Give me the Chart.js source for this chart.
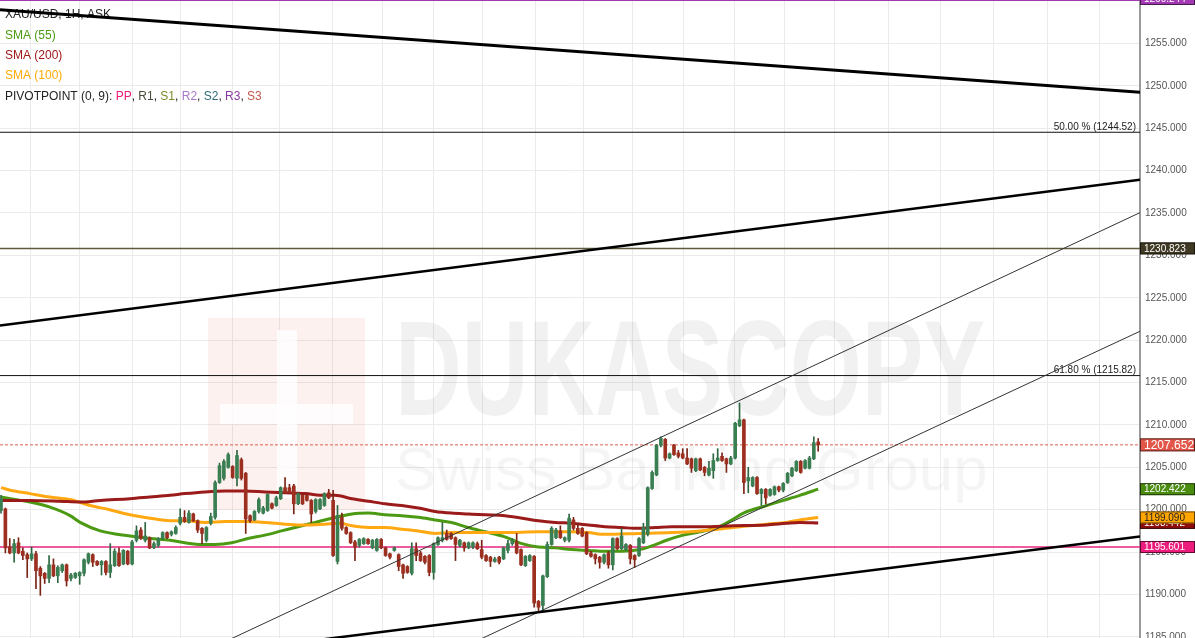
<!DOCTYPE html>
<html>
<head>
<meta charset="utf-8">
<script src="https://cdn.jsdelivr.net/npm/chart.js@4"></script>
<style>
  html, body { margin: 0; padding: 0; background: #fff; }
  #wrap { width: 1195px; height: 638px; }
</style>
</head>
<body>
<div id="wrap"><canvas id="chart"></canvas></div>
<script>
// XAU/USD 1H candles, oldest first
const openP = [1199.9,1200.1,1195.6,1194.9,1196.1,1195.1,1194.7,1194.2,1194.8,1193.1,
  1192.5,1191.9,1193.5,1192.2,1192.8,1193.5,1191.9,1192.0,1192.2,1192.5,
  1193.8,1194.7,1193.9,1193.5,1193.9,1192.6,1193.4,1194.9,1193.6,1195.1,
  1193.6,1196.4,1197.6,1196.4,1196.7,1195.5,1195.8,1196.6,1197.3,1197.1,
  1197.2,1198.4,1199.1,1198.5,1199.5,1198.7,1197.8,1196.4,1198.4,1199.1,
  1203.2,1203.7,1205.0,1205.1,1203.7,1205.9,1204.3,1199.3,1198.8,1199.8,
  1199.6,1199.9,1200.7,1200.5,1201.3,1202.6,1202.6,1202.8,1200.7,1201.7,
  1201.7,1201.1,1199.8,1200.1,1200.5,1202.0,1201.1,1193.9,1199.1,1197.9,
  1197.3,1196.2,1195.8,1196.0,1196.5,1195.5,1195.2,1196.5,1195.5,1194.8,
  1195.2,1194.7,1193.5,1193.3,1192.5,1195.4,1194.9,1194.5,1194.6,1192.6,
  1195.9,1196.4,1197.2,1197.2,1196.7,1195.8,1196.1,1195.5,1195.6,1196.0,
  1195.3,1194.6,1194.4,1193.9,1194.4,1194.2,1195.2,1196.0,1196.2,1195.3,
  1193.4,1194.0,1194.5,1189.2,1188.7,1192.1,1195.9,1196.7,1197.5,1196.4,
  1196.4,1198.8,1197.8,1197.8,1197.3,1194.9,1194.7,1194.4,1193.8,1194.9,
  1193.5,1196.6,1195.4,1195.3,1195.8,1194.6,1194.6,1196.1,1197.1,1202.5,
  1204.1,1207.6,1208.3,1206.1,1207.6,1206.7,1206.6,1206.1,1206.0,1204.6,
  1206.0,1205.0,1204.1,1204.6,1205.8,1206.3,1206.0,1205.4,1206.1,1209.9,
  1210.6,1203.4,1202.8,1203.8,1201.9,1202.4,1201.7,1201.8,1202.7,1202.3,
  1203.2,1204.0,1204.6,1205.7,1204.9,1204.9,1206.0,1208.0];
const highP = [1201.7,1200.2,1196.6,1196.5,1196.7,1195.5,1194.9,1195.6,1195.1,1193.3,
  1192.6,1194.6,1194.2,1193.4,1193.6,1193.6,1192.5,1192.6,1192.7,1194.2,
  1194.9,1194.8,1194.0,1194.0,1194.0,1196.0,1195.4,1195.5,1195.3,1195.2,
  1196.4,1198.1,1197.9,1198.5,1196.8,1196.2,1196.7,1197.4,1197.4,1197.5,
  1198.1,1200.1,1199.9,1199.9,1199.6,1198.8,1197.9,1198.0,1199.6,1203.4,
  1205.5,1205.9,1206.7,1205.2,1207.0,1206.1,1204.4,1199.4,1199.9,1201.4,
  1200.4,1201.9,1200.8,1201.6,1202.7,1203.8,1203.0,1203.0,1202.0,1201.9,
  1201.8,1201.2,1201.3,1201.3,1202.0,1202.4,1202.3,1200.5,1199.6,1198.0,
  1197.4,1196.4,1196.6,1196.7,1196.6,1196.5,1196.6,1196.6,1195.6,1194.9,
  1195.6,1194.8,1193.6,1193.4,1196.1,1196.1,1195.1,1194.6,1194.7,1196.1,
  1196.8,1198.5,1197.6,1197.3,1196.8,1196.5,1196.2,1196.2,1196.2,1196.2,
  1196.4,1194.7,1194.5,1194.4,1194.5,1195.6,1196.4,1196.6,1197.2,1195.4,
  1194.6,1194.7,1194.6,1189.3,1192.3,1196.2,1198.0,1197.8,1198.1,1196.8,
  1199.5,1199.1,1198.4,1197.9,1197.4,1195.1,1194.8,1194.5,1194.8,1195.1,
  1196.7,1196.7,1197.8,1196.0,1195.9,1194.7,1196.7,1198.4,1202.7,1204.6,
  1207.7,1208.6,1208.4,1206.7,1207.7,1207.0,1207.2,1207.2,1206.1,1206.1,
  1206.1,1205.1,1205.7,1206.6,1207.2,1206.7,1206.1,1206.3,1210.3,1212.6,
  1210.7,1205.0,1203.9,1203.9,1202.5,1202.5,1202.5,1202.8,1202.8,1203.2,
  1204.4,1205.0,1205.8,1205.8,1205.9,1206.3,1208.6,1208.4];
const lowP = [1199.6,1194.9,1194.8,1193.8,1194.8,1194.1,1192.0,1194.0,1190.7,1189.9,
  1191.3,1191.4,1192.1,1191.4,1192.6,1191.0,1191.6,1191.9,1191.2,1192.2,
  1193.6,1193.3,1193.4,1192.3,1192.3,1192.0,1193.3,1193.3,1193.5,1193.5,
  1193.5,1196.2,1196.5,1196.2,1195.4,1195.4,1195.6,1196.5,1196.6,1196.9,
  1197.1,1198.2,1198.5,1198.4,1198.6,1197.3,1196.0,1196.2,1198.2,1198.9,
  1203.1,1203.5,1204.9,1203.7,1202.8,1203.5,1197.2,1198.5,1198.7,1199.6,
  1199.5,1199.8,1200.1,1200.4,1201.2,1201.9,1201.9,1199.5,1200.6,1200.6,
  1201.0,1198.5,1199.6,1200.0,1200.4,1201.3,1194.5,1193.6,1197.6,1197.1,
  1196.0,1194.0,1195.6,1195.9,1195.9,1195.4,1195.1,1195.4,1194.5,1194.2,
  1195.1,1192.8,1191.9,1192.5,1192.3,1194.0,1193.9,1193.6,1192.2,1191.8,
  1195.8,1196.2,1196.4,1196.5,1194.0,1195.6,1195.1,1195.4,1195.4,1195.3,
  1194.2,1193.9,1193.3,1193.8,1193.6,1194.1,1194.9,1195.8,1194.8,1193.4,
  1193.3,1193.9,1188.5,1188.1,1187.9,1192.0,1195.8,1196.6,1196.6,1196.2,
  1196.2,1197.6,1197.1,1196.8,1194.7,1194.4,1193.6,1193.1,1193.6,1193.1,
  1192.9,1195.3,1195.3,1195.2,1193.6,1193.2,1194.5,1196.0,1196.9,1202.4,
  1204.0,1207.4,1205.8,1206.0,1206.4,1206.1,1206.0,1205.3,1204.4,1204.5,
  1204.6,1204.0,1204.0,1203.7,1205.7,1205.7,1204.4,1205.3,1206.0,1209.8,
  1201.9,1202.0,1202.7,1201.8,1200.5,1200.7,1201.6,1201.7,1202.1,1202.1,
  1203.1,1203.9,1204.5,1204.3,1204.8,1204.8,1205.9,1206.9];
const closeP = [1201.3,1195.5,1194.9,1196.0,1194.9,1194.6,1194.2,1194.8,1192.8,1192.2,
  1191.9,1193.5,1192.2,1193.2,1193.5,1191.6,1192.3,1192.5,1192.6,1194.1,
  1194.8,1193.8,1193.5,1193.9,1192.6,1193.5,1195.1,1193.4,1195.2,1193.6,
  1196.2,1197.5,1196.6,1196.9,1195.5,1196.0,1196.6,1197.3,1196.7,1197.4,
  1197.9,1199.1,1198.6,1199.6,1198.7,1197.6,1197.2,1197.9,1199.2,1203.2,
  1205.2,1205.7,1206.5,1203.8,1206.4,1203.7,1198.9,1198.7,1199.8,1201.2,
  1200.2,1201.8,1200.2,1201.4,1202.6,1202.0,1202.0,1200.7,1201.9,1200.7,
  1201.1,1199.5,1201.2,1201.2,1201.9,1201.4,1194.6,1199.3,1197.8,1197.2,
  1196.1,1195.6,1196.5,1196.6,1196.0,1196.4,1196.5,1195.5,1194.6,1194.4,
  1195.5,1193.3,1192.5,1192.6,1195.4,1194.6,1194.0,1193.8,1192.6,1196.0,
  1196.7,1196.7,1196.5,1196.6,1195.9,1196.4,1195.5,1196.1,1196.1,1195.4,
  1194.4,1194.0,1193.9,1194.2,1193.8,1195.5,1196.0,1196.4,1194.9,1193.5,
  1194.5,1194.6,1189.0,1188.5,1192.2,1195.9,1197.8,1197.6,1196.7,1196.7,
  1199.0,1197.8,1197.2,1196.9,1194.8,1194.5,1194.2,1193.8,1194.7,1193.5,
  1196.6,1195.4,1196.9,1195.9,1194.2,1194.1,1196.6,1197.9,1202.6,1204.4,
  1207.6,1208.4,1206.1,1206.6,1206.5,1206.3,1206.1,1205.4,1204.9,1206.0,
  1204.7,1204.4,1204.9,1205.8,1206.1,1205.8,1205.4,1206.1,1210.2,1210.6,
  1203.2,1203.8,1203.8,1201.9,1202.4,1201.4,1202.4,1202.7,1202.3,1203.1,
  1204.3,1204.9,1205.7,1204.4,1205.8,1206.1,1207.9,1207.65];

// moving averages, read at candle positions
const sma55X = [0,6.6,11.2,15.8,18.1,22.7,29.5,34.1,38.7,42.1,45.9,49.0,52.8,56.5,60.4,64.2,68.0,71.9,75.7,80.3,
  84.1,87.9,91.7,95.5,99.3,103.1,106.9,110.8,115.3,119.2,123.0,126.8,130.6,134.4,138.2,142.0,146.2,149.3,152.3,156.1,
  160.0,163.8,167.6,169.9,175.2,179.0,182.8,187];
const sma55Y = [1201.5,1200.9,1200.3,1199.3,1198.5,1197.5,1196.9,1196.6,1196.4,1196.1,1195.9,1195.9,1196.1,1196.6,1197.0,1197.5,1198.0,1198.5,1199.0,1199.5,
  1199.6,1199.4,1199.3,1199.1,1198.8,1198.5,1197.9,1197.4,1196.8,1196.0,1195.6,1195.5,1195.3,1195.2,1195.1,1195.1,1195.3,1195.8,1196.4,1197.0,
  1197.4,1197.9,1198.9,1199.6,1200.5,1201.1,1201.7,1202.422];
const sma200X = [0,6.6,13.5,18.1,22.7,29.5,34.1,38.7,42.1,46.7,51.3,55.8,60.4,65.0,69.6,74.1,76.4,80.3,84.1,87.9,
  91.7,95.5,99.3,103.1,106.9,110.8,115.3,123.0,126.8,130.6,134.4,138.2,142.0,145.8,149.7,153.5,160.0,167.6,175.2,179.8,
  182.8,187];
const sma200Y = [1201.1,1201.1,1201.0,1200.9,1201.1,1201.3,1201.5,1201.7,1201.9,1202.1,1202.2,1202.2,1202.1,1202.0,1201.9,1201.7,1201.7,1201.3,1201.0,1200.7,
  1200.5,1200.2,1199.8,1199.6,1199.5,1199.4,1199.3,1198.7,1198.5,1198.4,1198.2,1198.0,1197.9,1197.8,1197.9,1198.0,1198.0,1198.1,1198.2,1198.4,
  1198.5,1198.442];
const sma100X = [0,2.1,6.6,11.2,15.8,20.4,24.9,29.5,34.1,38.7,42.1,46.7,51.3,55.8,60.4,65.0,69.6,74.1,77.6,80.3,
  84.1,87.9,91.7,95.5,99.3,103.1,106.9,110.8,115.3,123.0,130.6,134.4,138.2,145.8,153.5,160.0,167.6,175.2,179.8,182.8,187];
const sma100Y = [1202.6,1202.3,1201.9,1201.5,1201.2,1200.5,1200.0,1199.4,1199.0,1198.7,1198.7,1198.5,1198.6,1198.6,1198.5,1198.3,1198.2,1198.3,1198.4,1198.1,
  1197.9,1197.9,1197.7,1197.5,1197.2,1197.3,1197.3,1197.3,1197.3,1197.4,1197.4,1197.3,1197.1,1197.2,1197.3,1197.5,1197.9,1198.3,1198.5,1198.8,1199.09];

// drawn trend lines (end points: candle index, price)
const downTrendX = [-0.23, 260.64], downTrendY = [1258.98, 1249.25];
const upTrendX = [-0.23, 260.64], upTrendY = [1221.72, 1238.93];
const baseTrendX = [68.42, 260.64], baseTrendY = [1184.37, 1196.85];
const chanTopX = [52.86, 260.64], chanTopY = [1184.82, 1235.04];
const chanBotX = [110.07, 260.64], chanBotY = [1184.82, 1221.05];

// horizontal levels
const pivotR = 1260.244, fib50 = 1244.52, pivotPP2 = 1230.823, fib618 = 1215.82;
const lastPrice = 1207.652, pivotPP = 1195.601;

const yTicks = [1185,1190,1195,1200,1205,1210,1215,1220,1225,1230,1235,1240,1245,1250,1255];
const gridTimes = [6.86,17.85,29.98,40.96,52.86,63.84,75.97,87.19,98.86,110.07,122.2,133.2,144.6,156.1,167.96,179.4,190.8,203.0,215.1,227.2,239.4,251.3];

const xMin = -0.23, xMax = 260.64;
const FONT = '"Liberation Sans", Arial, sans-serif';

const idx = openP.map((_, i) => i);
const up = idx.map(i => closeP[i] >= openP[i]);
const wicks = idx.map(i => ({ x: i, y: [lowP[i], highP[i]] }));
const bodies = idx.map(i => ({ x: i, y: [Math.min(openP[i], closeP[i]), Math.max(openP[i], closeP[i])] }));
const pts = (xs, ys) => xs.map((x, i) => ({ x, y: ys[i] }));

function line(xs, ys, color, width, order, extra) {
  return Object.assign({ type: 'line', data: pts(xs, ys), borderColor: color, borderWidth: width,
    pointRadius: 0, fill: false, order }, extra || {});
}
function level(v, color, width, dash) {
  return line([xMin, xMax], [v, v], color, width, 6, { borderDash: dash || [] });
}

const overlay = {
  id: 'overlay',
  beforeDatasetsDraw(chart) {
    const ctx = chart.ctx;
    ctx.save();
    // faint watermark
    ctx.fillStyle = 'rgba(225,80,70,0.08)';
    ctx.fillRect(208, 318, 157, 192);
    ctx.fillStyle = 'rgba(255,255,255,0.8)';
    ctx.fillRect(277, 330, 20, 168);
    ctx.fillRect(220, 404, 133, 20);
    ctx.font = 'bold 136px ' + FONT;
    ctx.textBaseline = 'alphabetic';
    const w = ctx.measureText('DUKASCOPY').width;
    ctx.save();
    ctx.translate(395, 415);
    ctx.scale(590 / w, 1);
    ctx.fillStyle = 'rgba(0,0,0,0.055)';
    ctx.fillText('DUKASCOPY', 0, 0);
    ctx.restore();
    ctx.font = '62px ' + FONT;
    ctx.fillStyle = 'rgba(0,0,0,0.04)';
    ctx.fillText('Swiss Banking Group', 395, 490);

    // legend text
    ctx.font = '12px ' + FONT;
    ctx.textBaseline = 'middle';
    ctx.textAlign = 'left';
    const rows = [
      [['XAU/USD, 1H, ASK', '#222']],
      [['SMA (55)', '#4c9a13']],
      [['SMA (200)', '#a01818']],
      [['SMA (100)', '#ffaa00']],
      [['PIVOTPOINT (0, 9): ', '#222'], ['PP', '#ec1c7c'], [', ', '#222'], ['R1', '#4a4a3a'], [', ', '#222'],
       ['S1', '#7b8a2b'], [', ', '#222'], ['R2', '#a878c8'], [', ', '#222'], ['S2', '#2e6b78'], [', ', '#222'],
       ['R3', '#8c3aa0'], [', ', '#222'], ['S3', '#c2584c']]
    ];
    rows.forEach((parts, r) => {
      let x = 5;
      const y = 15 + r * 20.3;
      parts.forEach(([t, c]) => {
        ctx.fillStyle = c;
        ctx.fillText(t, x, y);
        x += ctx.measureText(t).width;
      });
    });
    ctx.restore();
  },
  afterDraw(chart) {
    const ctx = chart.ctx, ys = chart.scales.y, a = chart.chartArea;
    ctx.save();
    ctx.font = '10px ' + FONT;
    ctx.fillStyle = '#222';
    ctx.textAlign = 'right';
    ctx.textBaseline = 'middle';
    ctx.fillText('50.00 % (' + fib50.toFixed(2) + ')', a.right - 4, ys.getPixelForValue(fib50) - 5.5);
    ctx.fillText('61.80 % (' + fib618.toFixed(2) + ')', a.right - 4, ys.getPixelForValue(fib618) - 5.5);

    const boxes = [
      [sma200Y[sma200Y.length - 1], '#8b0d0d', '#fff', 10],
      [sma100Y[sma100Y.length - 1], '#ffa500', '#222', 10],
      [sma55Y[sma55Y.length - 1], '#4a8c10', '#fff', 10],
      [pivotPP, '#ec1c7c', '#fff', 10],
      [pivotPP2, '#3f3822', '#fff', 10],
      [lastPrice, '#e2574a', '#fff', 12],
      [pivotR, '#a33ab3', '#fff', 10]
    ];
    ctx.textAlign = 'left';
    boxes.forEach(([v, bg, fg, fs]) => {
      const y = ys.getPixelForValue(v);
      const h = fs > 10 ? 13 : 12;
      ctx.fillStyle = bg;
      ctx.fillRect(a.right, y - h / 2, 55, h);
      ctx.strokeStyle = 'rgba(0,0,0,0.6)';
      ctx.lineWidth = 1;
      ctx.strokeRect(a.right + 0.5, y - h / 2 + 0.5, 54, h - 1);
      ctx.fillStyle = fg;
      ctx.font = fs + 'px ' + FONT;
      ctx.fillText(v.toFixed(3), a.right + 4, y + 0.5);
    });
    ctx.restore();
  }
};

new Chart(document.getElementById('chart'), {
  type: 'bar',
  data: {
    datasets: [
      level(pivotR, '#a33ab3', 4),
      level(fib50, '#111', 1),
      level(pivotPP2, '#5e5a3c', 1.5),
      level(fib618, '#111', 1),
      level(lastPrice, '#e06050', 1, [3, 2]),
      level(pivotPP, '#e8247f', 1.5),
      line(sma200X, sma200Y, '#9b1b1b', 3, 5, { cubicInterpolationMode: 'monotone' }),
      line(sma100X, sma100Y, '#ffa812', 3, 5, { cubicInterpolationMode: 'monotone' }),
      line(sma55X, sma55Y, '#4c9a13', 3, 5, { cubicInterpolationMode: 'monotone' }),
      {
        type: 'bar', data: wicks, grouped: false, barThickness: 1, order: 3,
        backgroundColor: idx.map(i => up[i] ? '#2d6641' : '#7a2416')
      },
      {
        type: 'bar', data: bodies, grouped: false, barThickness: 3, minBarLength: 1, order: 2,
        backgroundColor: idx.map(i => up[i] ? '#3a7f52' : '#9c2f1f')
      },
      line(downTrendX, downTrendY, '#000', 3, 1),
      line(upTrendX, upTrendY, '#000', 2.5, 1),
      line(baseTrendX, baseTrendY, '#000', 2.5, 1),
      line(chanTopX, chanTopY, '#333', 1, 1),
      line(chanBotX, chanBotY, '#333', 1, 1)
    ]
  },
  options: {
    responsive: true,
    maintainAspectRatio: false,
    animation: false,
    devicePixelRatio: 1,
    layout: { padding: 0, autoPadding: false },
    plugins: { legend: { display: false }, tooltip: { enabled: false } },
    scales: {
      x: {
        type: 'linear', min: xMin, max: xMax, offset: false,
        grid: { offset: false, color: '#ebebeb', drawTicks: false },
        border: { display: false },
        ticks: { display: false },
        afterBuildTicks: s => { s.ticks = gridTimes.map(v => ({ value: v })); },
        afterFit: s => { s.height = 0; s.paddingLeft = 0; s.paddingRight = 0; }
      },
      y: {
        position: 'right', min: 1184.87, max: 1260.12,
        grid: { color: '#ebebeb', drawTicks: false },
        border: { color: '#9a9a9a', width: 2 },
        ticks: { padding: 5, color: '#555', font: { family: FONT, size: 10 }, callback: v => Number(v).toFixed(3) },
        afterBuildTicks: s => { s.ticks = yTicks.map(v => ({ value: v })); },
        afterFit: s => { s.width = 55; s.paddingTop = 0; s.paddingBottom = 0; }
      }
    }
  },
  plugins: [overlay]
});
</script>
</body>
</html>
